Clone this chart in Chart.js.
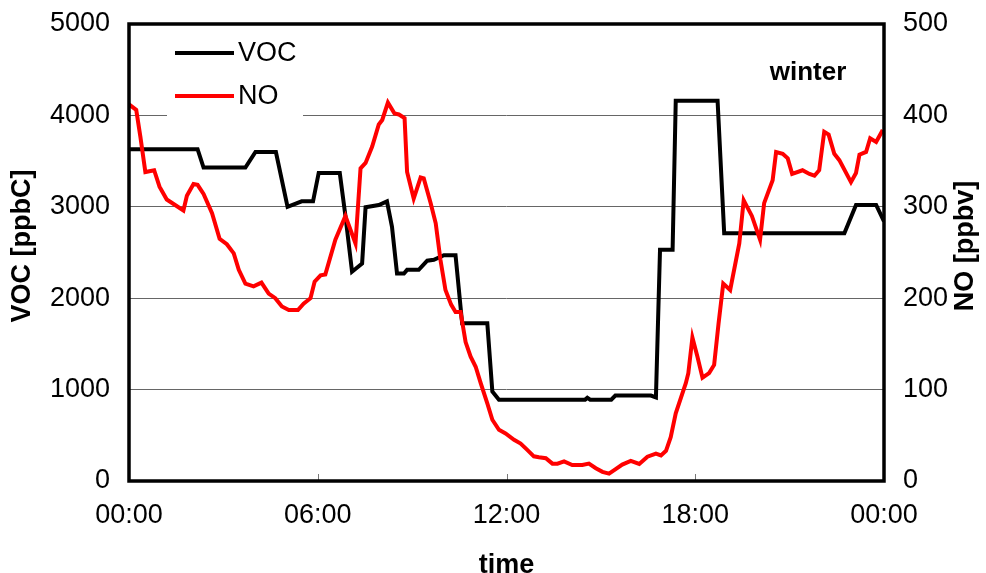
<!DOCTYPE html>
<html>
<head>
<meta charset="utf-8">
<script src="https://cdn.jsdelivr.net/npm/chart.js@4"></script>
<style>
  html, body { margin: 0; padding: 0; background: #fff; }
  #wrap { width: 986px; height: 573px; }
</style>
</head>
<body>
<div id="wrap"><canvas id="grafico" width="986" height="573"></canvas></div>
<script>
// ==============================
// DATA
// ==============================

// hours after midnight
const vocTime = [0, 2.18, 2.37, 3.70, 4.02, 4.67, 5.04, 5.49, 5.85, 6.03,
    6.70, 6.88, 7.09, 7.41, 7.52, 7.94, 8.20, 8.36, 8.52, 8.74,
    8.84, 9.21, 9.48, 9.69, 10.01, 10.38, 10.59, 11.39, 11.55, 11.76,
    14.50, 14.57, 14.66, 15.33, 15.46, 16.59, 16.75, 16.88, 17.28, 17.38,
    18.71, 18.92, 22.74, 23.11, 23.75, 24.0];
// ppbC
const vocValue = [3630, 3630, 3430, 3430, 3600, 3600, 3000, 3060, 3060, 3370,
    3370, 2900, 2290, 2380, 2995, 3020, 3060, 2780, 2270, 2270,
    2310, 2310, 2410, 2420, 2470, 2470, 1725, 1725, 980, 890,
    890, 910, 890, 890, 935, 935, 915, 2530, 2530, 4160,
    4160, 2710, 2710, 3020, 3020, 2840];

const noTime = [0, 0.23, 0.36, 0.52, 0.80, 0.97, 1.20, 1.73, 1.84, 2.05,
    2.18, 2.37, 2.64, 2.88, 3.11, 3.33, 3.49, 3.70, 3.96, 4.21,
    4.44, 4.65, 4.86, 5.08, 5.37, 5.55, 5.77, 5.90, 6.09, 6.24,
    6.56, 6.88, 7.20, 7.36, 7.52, 7.73, 7.94, 8.05, 8.23, 8.44,
    8.58, 8.76, 8.84, 9.05, 9.27, 9.37, 9.59, 9.75, 9.90, 10.06,
    10.24, 10.38, 10.54, 10.70, 10.86, 11.02, 11.18, 11.39, 11.55, 11.76,
    11.97, 12.24, 12.45, 12.66, 12.87, 13.03, 13.25, 13.46, 13.62, 13.83,
    14.09, 14.41, 14.62, 14.84, 15.05, 15.26, 15.47, 15.68, 15.95, 16.22,
    16.48, 16.75, 16.91, 17.07, 17.22, 17.38, 17.70, 17.78, 17.91, 18.07,
    18.23, 18.44, 18.60, 18.74, 18.89, 19.11, 19.40, 19.54, 19.80, 20.06,
    20.19, 20.46, 20.57, 20.78, 20.94, 21.08, 21.41, 21.63, 21.79, 21.94,
    22.10, 22.24, 22.42, 22.58, 22.95, 23.11, 23.22, 23.43, 23.56, 23.75,
    23.96];
// ppbv
const noValue = [412, 406, 377, 338, 340, 322, 308, 296, 312, 325,
    324, 314, 293, 265, 259, 249, 231, 216, 213, 217,
    205, 200, 191, 187, 187, 194, 200, 218, 225, 226,
    264, 290, 260, 342, 348, 366, 390, 395, 414, 402,
    401, 397, 338, 309, 332, 331, 304, 282, 242, 209,
    193, 185, 185, 152, 136, 125, 107, 85, 67, 56,
    52, 45, 41, 34, 27, 26, 25, 19, 19, 21.5,
    17.5, 17.5, 19, 14, 10, 8, 13, 18, 22, 18.6,
    26.6, 30, 28, 33, 48, 74, 107, 118, 157, 136,
    113, 118, 127, 172, 216, 209, 260, 307, 290, 264,
    304, 329, 360, 358, 353, 336, 340, 336, 334, 340,
    382, 379, 358, 351, 327, 337, 357, 360, 375, 371,
    384];

const xTickLabels = ['00:00', '06:00', '12:00', '18:00', '00:00'];
const leftTitle = 'VOC [ppbC]';
const rightTitle = 'NO [ppbv]';
const seasonLabel = 'winter';

// ==============================
// STYLE
// ==============================
const FONT = 'Liberation Sans, Arial, sans-serif';
const AREA = { left: 129, right: 884, top: 24, bottom: 481 };

// frame, small ticks, legend, axis titles and season text
const marcoPlugin = {
    id: 'marco',
    afterDatasetsDraw(chart) {
        const ctx = chart.ctx;
        const a = chart.chartArea;
        const x = chart.scales.x;
        ctx.save();

        // small inward ticks on the time axis
        ctx.strokeStyle = '#777';
        ctx.lineWidth = 1;
        [6, 12, 18].forEach(h => {
            const px = Math.round(x.getPixelForValue(h)) + 0.5;
            ctx.beginPath();
            ctx.moveTo(px, a.bottom);
            ctx.lineTo(px, a.bottom - 7);
            ctx.stroke();
        });

        // plot frame
        ctx.strokeStyle = '#000';
        ctx.lineWidth = 3.5;
        ctx.strokeRect(a.left, a.top, a.right - a.left, a.bottom - a.top);

        // legend (white box hides the grid line behind it)
        ctx.fillStyle = '#fff';
        ctx.fillRect(167, 32, 136, 88);
        ctx.font = '27px ' + FONT;
        ctx.textBaseline = 'middle';
        ctx.textAlign = 'left';
        chart.data.datasets.forEach((ds, i) => {
            const y = 53 + i * 43;
            ctx.strokeStyle = ds.borderColor;
            ctx.lineWidth = 4;
            ctx.beginPath();
            ctx.moveTo(175, y);
            ctx.lineTo(234, y);
            ctx.stroke();
            ctx.fillStyle = '#000';
            ctx.fillText(ds.label, 238, y + 1);
        });

        // season label
        ctx.font = 'bold 26px ' + FONT;
        ctx.textAlign = 'center';
        ctx.fillText(seasonLabel, 808, 73);

        // vertical axis titles, both read bottom to top
        ctx.font = 'bold 27px ' + FONT;
        [[leftTitle, 23], [rightTitle, 966]].forEach(([txt, cx]) => {
            ctx.save();
            ctx.translate(cx, 246);
            ctx.rotate(-Math.PI / 2);
            ctx.fillText(txt, 0, 0);
            ctx.restore();
        });
        ctx.restore();
    }
};

const tickFont = { family: FONT, size: 27 };
const titleFont = { family: FONT, size: 27, weight: 'bold', lineHeight: 1 };

// fixed box sizes so the plot area lands where it is in the picture
function fijarAncho(ancho) {
    return s => {
        s.width = ancho;
        s.paddingTop = 0;
        s.paddingBottom = 0;
    };
}

new Chart(document.getElementById('grafico'), {
    type: 'line',
    data: {
        datasets: [{
            label: 'VOC',
            data: vocTime.map((t, i) => ({ x: t, y: vocValue[i] })),
            borderColor: '#000000',
            borderWidth: 4,
            pointRadius: 0,
            tension: 0,
            yAxisID: 'y',
            order: 1
        }, {
            label: 'NO',
            data: noTime.map((t, i) => ({ x: t, y: noValue[i] })),
            borderColor: '#ff0000',
            borderWidth: 4,
            pointRadius: 0,
            tension: 0,
            yAxisID: 'y2',
            order: 0
        }]
    },
    options: {
        responsive: false,
        animation: false,
        layout: { padding: { top: AREA.top, left: 0, right: 0, bottom: 0 } },
        plugins: {
            legend: { display: false },
            tooltip: { enabled: false }
        },
        scales: {
            x: {
                type: 'linear',
                min: 0,
                max: 24,
                afterFit: s => {
                    s.height = 573 - AREA.bottom;
                    s.paddingLeft = 0;
                    s.paddingRight = 0;
                },
                afterBuildTicks: s => {
                    s.ticks = [0, 6, 12, 18, 24].map(v => ({ value: v }));
                },
                ticks: {
                    color: '#000',
                    font: tickFont,
                    padding: 10,
                    maxRotation: 0,
                    callback: (v, i) => xTickLabels[i]
                },
                grid: { display: false },
                border: { display: false },
                title: {
                    display: true,
                    text: 'time',
                    color: '#000',
                    font: titleFont,
                    padding: { top: 0, bottom: -6 }
                }
            },
            y: {
                position: 'left',
                min: 0,
                max: 5000,
                afterFit: fijarAncho(AREA.left),
                ticks: {
                    stepSize: 1000,
                    color: '#000',
                    font: tickFont,
                    padding: 19,
                    callback: v => String(v)
                },
                grid: { color: '#666', lineWidth: 1, drawTicks: false },
                border: { display: false }
            },
            y2: {
                position: 'right',
                min: 0,
                max: 500,
                afterFit: fijarAncho(986 - AREA.right),
                ticks: {
                    stepSize: 100,
                    color: '#000',
                    font: tickFont,
                    padding: 19,
                    callback: v => String(v)
                },
                grid: { display: false, drawTicks: false },
                border: { display: false }
            }
        }
    },
    plugins: [marcoPlugin]
});
</script>
</body>
</html>
